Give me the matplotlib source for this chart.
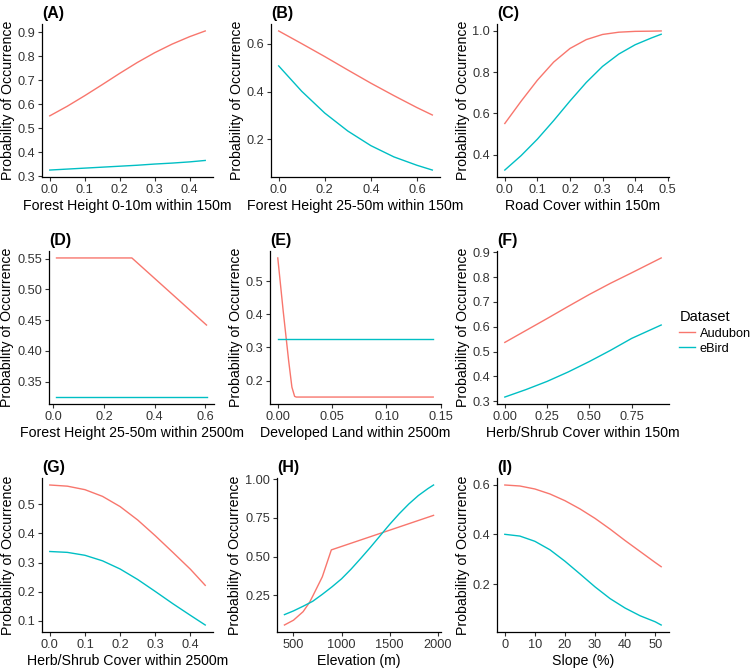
import matplotlib
matplotlib.use("Agg")
import matplotlib.pyplot as plt
from matplotlib.lines import Line2D

plt.rcParams['font.family'] = ['Liberation Sans', 'DejaVu Sans']

AUD = '#F8766D'
EBD = '#00BFC4'

# (A) Forest Height 0-10m within 150m
a_x = [0.0, 0.05, 0.1, 0.15, 0.2, 0.25, 0.3, 0.35, 0.4, 0.445]
a_aud = [0.551, 0.591, 0.635, 0.681, 0.728, 0.773, 0.814, 0.850, 0.881, 0.905]
a_ebd = [0.325, 0.329, 0.333, 0.337, 0.341, 0.345, 0.35, 0.354, 0.359, 0.365]

# (B) Forest Height 25-50m within 150m
b_x = [0.0, 0.1, 0.2, 0.3, 0.4, 0.5, 0.6, 0.667]
b_aud = [0.653, 0.6, 0.546, 0.49, 0.435, 0.383, 0.333, 0.302]
b_ebd = [0.507, 0.401, 0.31, 0.235, 0.174, 0.127, 0.092, 0.072]

# (C) Road Cover within 150m
c_x = [0.0, 0.05, 0.1, 0.15, 0.2, 0.25, 0.3, 0.35, 0.4, 0.45, 0.48]
c_aud = [0.551, 0.659, 0.761, 0.849, 0.915, 0.958, 0.983, 0.994, 0.998, 0.999, 1.0]
c_ebd = [0.325, 0.395, 0.475, 0.565, 0.66, 0.75, 0.828, 0.888, 0.933, 0.966, 0.984]

# (D) Forest Height 25-50m within 2500m
d_x = [0.012, 0.31, 0.605]
d_aud = [0.551, 0.551, 0.442]
d_ebd = [0.325, 0.325, 0.325]

# (E) Developed Land within 2500m
e_x = [0.0, 0.005, 0.01, 0.013, 0.0155, 0.017, 0.143]
e_aud = [0.571, 0.41, 0.26, 0.18, 0.152, 0.15, 0.15]
e_ebd = [0.326, 0.326, 0.326, 0.326, 0.326, 0.326, 0.326]

# (F) Herb/Shrub Cover within 150m
f_x = [0.0, 0.125, 0.25, 0.375, 0.5, 0.625, 0.75, 0.925]
f_aud = [0.537, 0.585, 0.633, 0.682, 0.73, 0.775, 0.817, 0.877]
f_ebd = [0.317, 0.347, 0.38, 0.418, 0.46, 0.505, 0.553, 0.607]

# (G) Herb/Shrub Cover within 2500m
g_x = [0.0, 0.05, 0.1, 0.15, 0.2, 0.25, 0.3, 0.35, 0.4, 0.442]
g_aud = [0.566, 0.562, 0.550, 0.527, 0.492, 0.446, 0.392, 0.335, 0.277, 0.222]
g_ebd = [0.338, 0.335, 0.325, 0.306, 0.278, 0.242, 0.201, 0.159, 0.119, 0.086]

# (H) Elevation (m)
h_x_aud = [406, 500, 600, 667, 700, 800, 894, 1958]
h_aud = [0.059, 0.09, 0.145, 0.205, 0.245, 0.37, 0.544, 0.767]
h_x_ebd = [406, 500, 600, 700, 800, 900, 1000, 1100, 1200, 1300, 1400, 1500,
           1600, 1700, 1800, 1900, 1958]
h_ebd = [0.126, 0.15, 0.18, 0.212, 0.257, 0.305, 0.357, 0.42, 0.489, 0.56, 0.634,
         0.708, 0.777, 0.84, 0.895, 0.94, 0.963]

# (I) Slope (%)
i_x = [0, 5, 10, 15, 20, 25, 30, 35, 40, 45, 50, 52]
i_aud = [0.598, 0.594, 0.582, 0.562, 0.535, 0.502, 0.464, 0.421, 0.375, 0.331, 0.287, 0.27]
i_ebd = [0.4, 0.393, 0.372, 0.338, 0.292, 0.241, 0.189, 0.142, 0.104, 0.073, 0.049, 0.036]

panels = [
    ('(A)', 'Forest Height 0-10m within 150m', a_x, a_aud, a_x, a_ebd,
     [0.0, 0.1, 0.2, 0.3, 0.4], ['0.0', '0.1', '0.2', '0.3', '0.4'],
     [0.3, 0.4, 0.5, 0.6, 0.7, 0.8, 0.9], ['0.3', '0.4', '0.5', '0.6', '0.7', '0.8', '0.9']),
    ('(B)', 'Forest Height 25-50m within 150m', b_x, b_aud, b_x, b_ebd,
     [0.0, 0.2, 0.4, 0.6], ['0.0', '0.2', '0.4', '0.6'],
     [0.2, 0.4, 0.6], ['0.2', '0.4', '0.6']),
    ('(C)', 'Road Cover within 150m', c_x, c_aud, c_x, c_ebd,
     [0.0, 0.1, 0.2, 0.3, 0.4, 0.5], ['0.0', '0.1', '0.2', '0.3', '0.4', '0.5'],
     [0.4, 0.6, 0.8, 1.0], ['0.4', '0.6', '0.8', '1.0']),
    ('(D)', 'Forest Height 25-50m within 2500m', d_x, d_aud, d_x, d_ebd,
     [0.0, 0.2, 0.4, 0.6], ['0.0', '0.2', '0.4', '0.6'],
     [0.35, 0.40, 0.45, 0.50, 0.55], ['0.35', '0.40', '0.45', '0.50', '0.55']),
    ('(E)', 'Developed Land within 2500m', e_x, e_aud, e_x, e_ebd,
     [0.0, 0.05, 0.10, 0.15], ['0.00', '0.05', '0.10', '0.15'],
     [0.2, 0.3, 0.4, 0.5], ['0.2', '0.3', '0.4', '0.5']),
    ('(F)', 'Herb/Shrub Cover within 150m', f_x, f_aud, f_x, f_ebd,
     [0.0, 0.25, 0.5, 0.75], ['0.00', '0.25', '0.50', '0.75'],
     [0.3, 0.4, 0.5, 0.6, 0.7, 0.8, 0.9], ['0.3', '0.4', '0.5', '0.6', '0.7', '0.8', '0.9']),
    ('(G)', 'Herb/Shrub Cover within 2500m', g_x, g_aud, g_x, g_ebd,
     [0.0, 0.1, 0.2, 0.3, 0.4], ['0.0', '0.1', '0.2', '0.3', '0.4'],
     [0.1, 0.2, 0.3, 0.4, 0.5], ['0.1', '0.2', '0.3', '0.4', '0.5']),
    ('(H)', 'Elevation (m)', h_x_aud, h_aud, h_x_ebd, h_ebd,
     [500, 1000, 1500, 2000], ['500', '1000', '1500', '2000'],
     [0.25, 0.5, 0.75, 1.0], ['0.25', '0.50', '0.75', '1.00']),
    ('(I)', 'Slope (%)', i_x, i_aud, i_x, i_ebd,
     [0, 10, 20, 30, 40, 50], ['0', '10', '20', '30', '40', '50'],
     [0.2, 0.4, 0.6], ['0.2', '0.4', '0.6']),
]

# panel boxes in pixels: left, top, right, bottom
boxes = [
    (42, 24, 213, 177), (271, 24, 440, 177), (497, 24, 669, 177),
    (49, 251, 214, 404), (270, 251, 441, 404), (497, 251, 669, 404),
    (42, 478, 213, 632), (277, 478, 441, 632), (497, 478, 669, 632),
]

W, H = 750, 668
fig = plt.figure(figsize=(W / 100, H / 100), dpi=100)


def expand(vals):
    lo, hi = min(vals), max(vals)
    pad = (hi - lo) * 0.05
    return lo - pad, hi + pad


for (title, xlab, xa, ya, xe, ye, xt, xtl, yt, ytl), (l, t, r, b) in zip(panels, boxes):
    ax = fig.add_axes([l / W, 1 - b / H, (r - l) / W, (b - t) / H])
    ax.plot(xa, ya, color=AUD, lw=1)
    ax.plot(xe, ye, color=EBD, lw=1)
    ax.set_xlim(*expand(list(xa) + list(xe)))
    ax.set_ylim(*expand(list(ya) + list(ye)))
    ax.set_xticks(xt)
    ax.set_xticklabels(xtl)
    ax.set_yticks(yt)
    ax.set_yticklabels(ytl)
    for s in ['top', 'right']:
        ax.spines[s].set_visible(False)
    for s in ['left', 'bottom']:
        ax.spines[s].set_linewidth(0.9)
    ax.tick_params(length=3, width=0.8, labelsize=9.2, labelcolor='#333333',
                   color='#333333', pad=2)
    ax.set_xlabel(xlab, fontsize=10.2, labelpad=2)
    ax.set_ylabel('Probability of Occurrence', fontsize=10.2, labelpad=2)
    ax.set_title(title, loc='left', fontweight='bold', fontsize=11.5, pad=4)

handles = [Line2D([], [], color=AUD, lw=1), Line2D([], [], color=EBD, lw=1)]
leg = fig.legend(handles, ['Audubon', 'eBird'], title='Dataset', frameon=False,
                 loc='upper left', bbox_to_anchor=(673 / W, 1 - 304 / H),
                 borderpad=0, fontsize=9.2, title_fontsize=10.5, handlelength=1.2,
                 handletextpad=0.4, labelspacing=0.25, alignment='left')

fig.savefig('out.png', dpi=100)
